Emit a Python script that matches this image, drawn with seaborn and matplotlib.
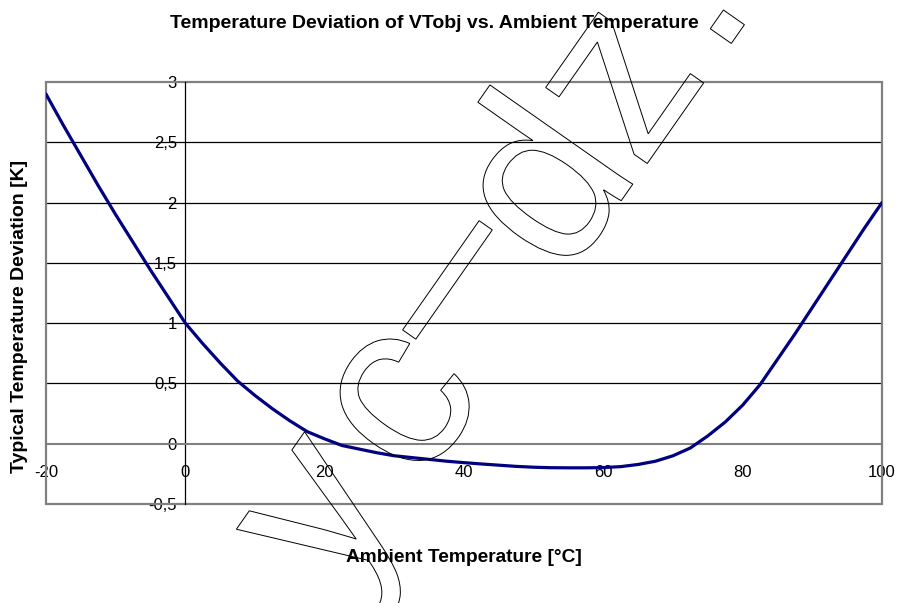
import numpy as np
import pandas as pd
import matplotlib
matplotlib.use('Agg')
import matplotlib.pyplot as plt
import seaborn as sns
from matplotlib.textpath import TextPath
from matplotlib.patches import PathPatch, Rectangle
from matplotlib.font_manager import FontProperties
from matplotlib.transforms import Affine2D
from matplotlib.path import Path

# values
ambient = [-20, -17.5, -15, -12.5, -10, -7.5, -5, -2.5, 0, 2.5, 5, 7.5, 10, 12.5, 15, 17.5,
           20, 22.5, 25, 27.5, 30, 32.5, 35, 37.5, 40, 42.5, 45, 47.5, 50, 52.5, 55, 57.5,
           60, 62.5, 65, 67.5, 70, 72.5, 75, 77.5, 80, 82.5, 85, 87.5, 90, 92.5, 95, 97.5, 100]
deviation = [2.90, 2.64, 2.39, 2.14, 1.90, 1.67, 1.44, 1.22, 1.00, 0.83, 0.67, 0.52, 0.40, 0.29, 0.19, 0.10,
             0.04, -0.015, -0.045, -0.075, -0.10, -0.115, -0.13, -0.145, -0.157, -0.168, -0.178, -0.188, -0.195, -0.199, -0.20, -0.20,
             -0.198, -0.19, -0.172, -0.145, -0.10, -0.035, 0.065, 0.18, 0.32, 0.49, 0.70, 0.91, 1.13, 1.35, 1.57, 1.79, 2.00]
x_ticks = [-20, 0, 20, 40, 60, 80, 100]
y_ticks = [-0.5, 0, 0.5, 1, 1.5, 2, 2.5, 3]

df = pd.DataFrame({'ambient': ambient, 'deviation': deviation})

sns.set_style('white')
plt.rcParams['font.family'] = ['Liberation Sans', 'DejaVu Sans']
plt.rcParams['text.color'] = 'black'

fig = plt.figure(figsize=(8.97, 6.03), dpi=100)
ax = fig.add_axes([46 / 897, 1 - 504 / 603, (882 - 46) / 897, (504 - 82) / 603])

# horizontal gridlines
for yv in y_ticks[2:-1]:
    ax.axhline(yv, color='black', lw=0.9, zorder=1)

sns.lineplot(data=df, x='ambient', y='deviation', color='#000080', lw=2.3, ax=ax, zorder=3)

ax.set_xlim(-20, 100)
ax.set_ylim(-0.5, 3)

# Excel style axes crossing at 0
for s in ['top', 'right']:
    ax.spines[s].set_visible(False)
ax.spines['left'].set_position(('data', 0))
ax.spines['bottom'].set_position(('data', 0))
ax.spines['left'].set_color('black')
ax.spines['bottom'].set_color('#808080')
ax.spines['left'].set_linewidth(0.9)
ax.spines['bottom'].set_linewidth(1.5)
ax.add_patch(Rectangle((0, 0), 1, 1, transform=ax.transAxes, fill=False,
                       edgecolor='#808080', lw=1.6, zorder=2, clip_on=False))

ax.set_xticks(x_ticks)
ax.set_xticklabels([str(v) for v in x_ticks])
ax.set_yticks(y_ticks)
ax.set_yticklabels([('%g' % v).replace('.', ',') for v in y_ticks])
ax.tick_params(axis='both', direction='out', length=4, width=0.9, labelsize=12, pad=2,
               colors='black', labelcolor='black')
ax.tick_params(axis='x', pad=11)
ax.set_xlabel('')
ax.set_ylabel('')

fig.text(434 / 897, 1 - 23 / 603, 'Temperature Deviation of VTobj vs. Ambient Temperature',
         ha='center', va='center', fontsize=14, fontweight='bold', color='black')
fig.text(464 / 897, 1 - 558 / 603, 'Ambient Temperature [°C]',
         ha='center', va='center', fontsize=13.8, fontweight='bold', color='black')
fig.text(20 / 897, 1 - 316 / 603, 'Typical Temperature Deviation [K]',
         ha='center', va='center', fontsize=14, fontweight='bold', rotation=90, color='black')

# outlined watermark "yc–dz." built glyph group by glyph group
fp = FontProperties(family='Liberation Sans')
em = 240
pieces = [('y', -0.08, 0.0), ('c', 0.5, 0.0), ('\u2013', 1.0, 0.15), ('dz', 1.556, 0.0), ('.', 2.672, 0.0)]
wm_path = Path.make_compound_path(*[TextPath((dx * em, dy * em), s, size=em, prop=fp) for s, dx, dy in pieces])
tr = Affine2D().translate(-1.556 * em, -0.26 * em).rotate_deg(55).translate(514, 603 - 245)
fig.add_artist(PathPatch(wm_path, facecolor='none', edgecolor='black', lw=0.7, transform=tr, zorder=5))

fig.savefig('out.png', dpi=100)
